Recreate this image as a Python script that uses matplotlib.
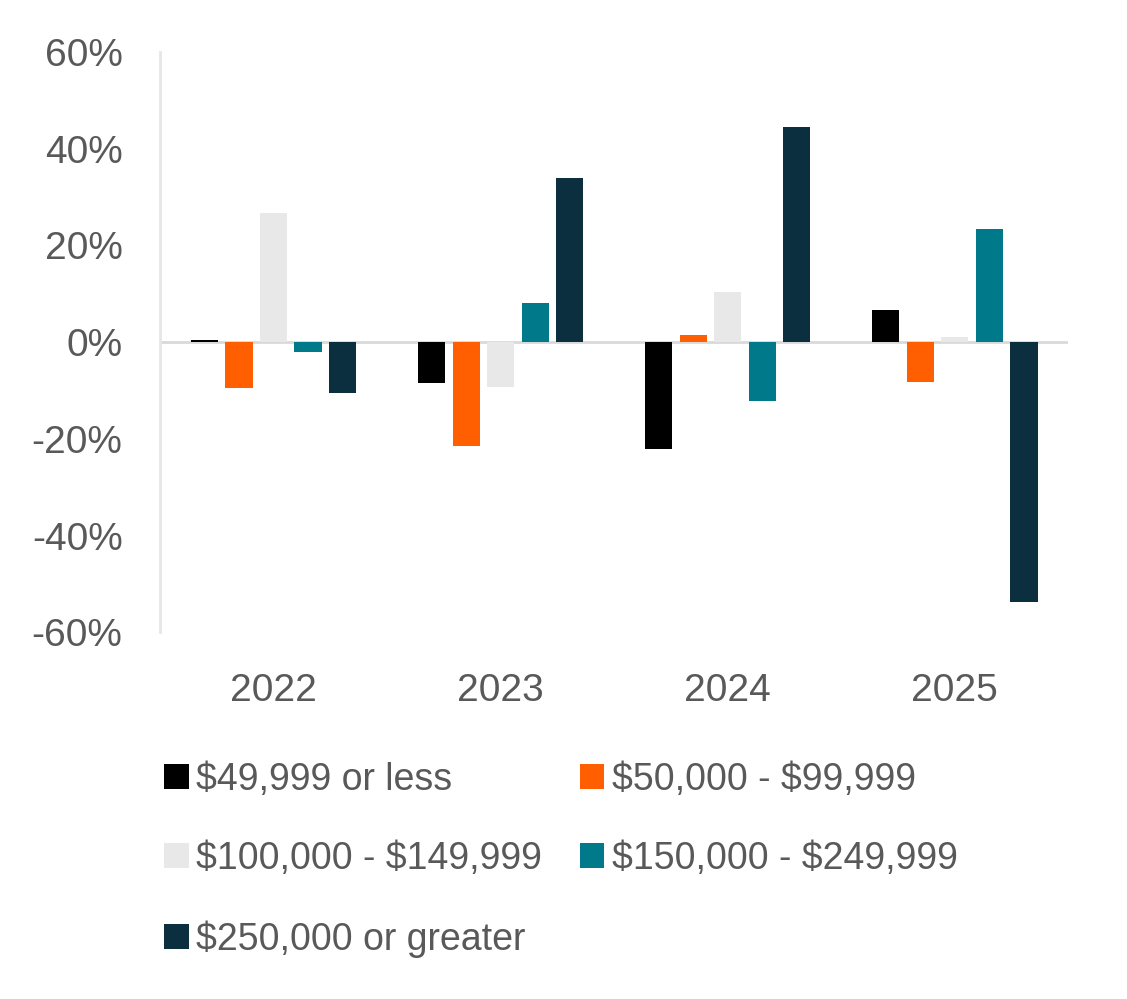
import numpy as np
import matplotlib.pyplot as plt
from matplotlib import font_manager

years = ["2022", "2023", "2024", "2025"]
series_names = [
    "$49,999 or less",
    "$50,000 - $99,999",
    "$100,000 - $149,999",
    "$150,000 - $249,999",
    "$250,000 or greater",
]
under_50k = [0.5, -8.5, -22.0, 6.6]
k50_100 = [-9.5, -21.5, 1.4, -8.3]
k100_150 = [26.7, -9.3, 10.3, 1.0]
k150_250 = [-2.0, 8.0, -12.2, 23.4]
over_250k = [-10.5, 34.0, 44.5, -53.8]
values = [under_50k, k50_100, k100_150, k150_250, over_250k]
colors = ["#000000", "#ff5f00", "#e8e8e8", "#007a8a", "#0c2f40"]

installed = {f.name for f in font_manager.fontManager.ttflist}
tick_font = "Liberation Sans" if "Liberation Sans" in installed else "DejaVu Sans"
legend_font = "Liberation Sans Narrow" if "Liberation Sans Narrow" in installed else tick_font
text_color = "#595959"

fig = plt.figure(figsize=(11.27, 9.99), dpi=100)
ax = fig.add_axes([0.142, 0.367, 0.806, 0.581])

x = np.arange(len(years))
step = 0.152
width = 0.12
handles = []
for i, (name, vals, c) in enumerate(zip(series_names, values, colors)):
    h = ax.bar(x + (i - 2) * step, vals, width, color=c, zorder=3)
    handles.append(h)

ax.set_xlim(-0.5, 3.5)
ax.set_ylim(-60, 60)
ax.set_yticks(range(-60, 61, 20))
ax.set_yticklabels([f"{v}%" for v in range(-60, 61, 20)])
ax.set_xticks(x)
ax.set_xticklabels(years)
ax.axhline(0, color="#d9d9d9", linewidth=2, zorder=2)

for s in ["top", "right", "bottom"]:
    ax.spines[s].set_visible(False)
ax.spines["left"].set_color("#e6e6e6")
ax.spines["left"].set_linewidth(2)
ax.tick_params(axis="both", length=0, labelsize=28, labelcolor=text_color)
ax.tick_params(axis="y", pad=27)
ax.tick_params(axis="x", pad=29)
for lab in ax.get_xticklabels() + ax.get_yticklabels():
    lab.set_fontfamily(tick_font)

# legend ordered so that it reads row by row; escape $ so it is not mathtext
labels = [n.replace("$", r"\$") for n in series_names]
order = [0, 2, 4, 1, 3]
leg = fig.legend([handles[i] for i in order], [labels[i] for i in order],
                 loc="upper left", bbox_to_anchor=(0.116, 0.271), ncol=2,
                 frameon=False, handlelength=0.65, handleheight=0.65,
                 handletextpad=0.2, columnspacing=1.0, labelspacing=1.15,
                 prop={"family": legend_font, "size": 27})
for t in leg.get_texts():
    t.set_color(text_color)

plt.savefig("out.png", dpi=100)
plt.close()
